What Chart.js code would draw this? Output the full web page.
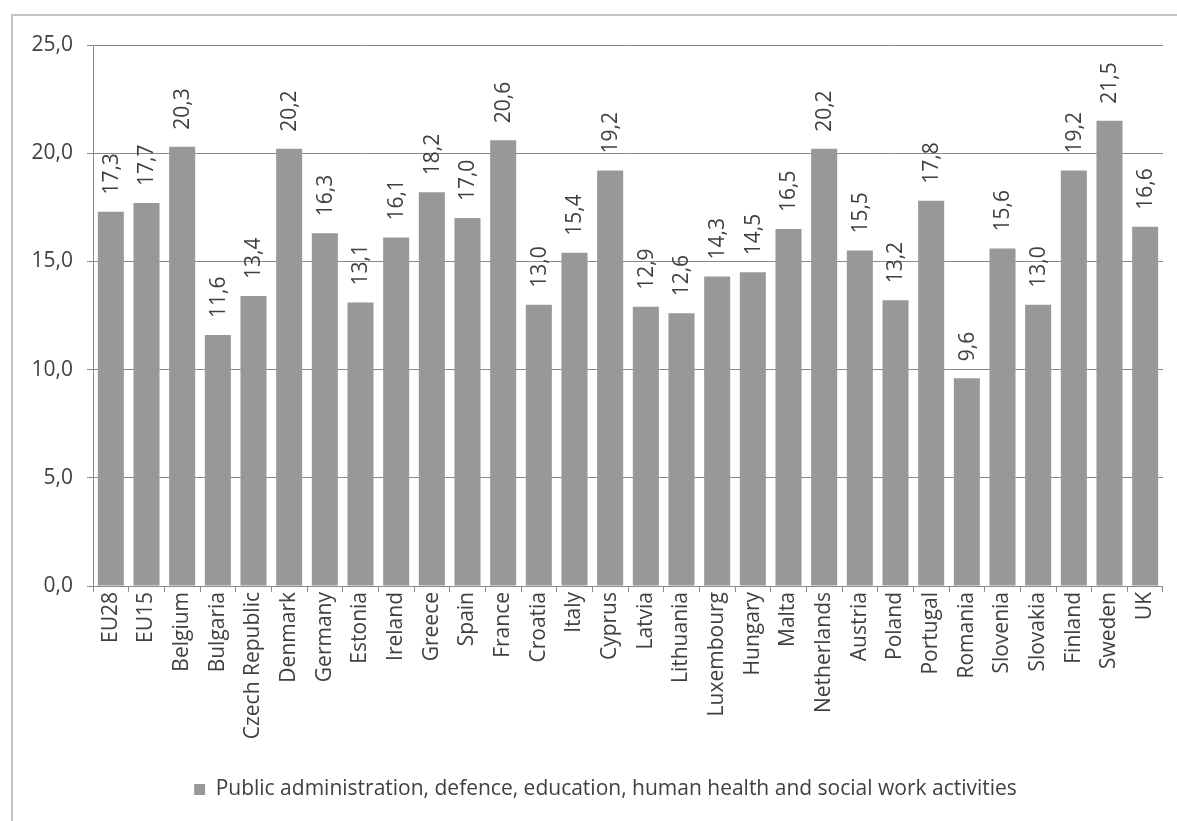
<!DOCTYPE html>
<html>
<head>
<meta charset="utf-8">
<script src="https://cdn.jsdelivr.net/npm/chart.js@4.4.0/dist/chart.umd.min.js"></script>
<style>
  html, body { margin: 0; padding: 0; background: #fff; }
  #wrap { width: 1177px; height: 821px; }
</style>
</head>
<body>
<div id="wrap"><canvas id="chart" width="1177" height="821"></canvas></div>
<script>
const countries = ["EU28", "EU15", "Belgium", "Bulgaria", "Czech Republic", "Denmark", "Germany",
  "Estonia", "Ireland", "Greece", "Spain", "France", "Croatia", "Italy", "Cyprus", "Latvia",
  "Lithuania", "Luxembourg", "Hungary", "Malta", "Netherlands", "Austria", "Poland", "Portugal",
  "Romania", "Slovenia", "Slovakia", "Finland", "Sweden", "UK"];
const shares = [17.3, 17.7, 20.3, 11.6, 13.4, 20.2, 16.3, 13.1, 16.1, 18.2, 17.0, 20.6, 13.0, 15.4,
  19.2, 12.9, 12.6, 14.3, 14.5, 16.5, 20.2, 15.5, 13.2, 17.8, 9.6, 15.6, 13.0, 19.2, 21.5, 16.6];
const seriesName = "Public administration, defence, education, human health and social work activities";
const yTicks = [0, 5, 10, 15, 20, 25];

const FONT = "'Open Sans'";
const SIZE = 21;
const TEXT = "#404040";
const fmt = v => v.toFixed(1).replace(".", ",");

// outer border around the whole chart
const frame = {
  id: "frame",
  beforeDraw(chart) {
    const c = chart.ctx;
    c.save();
    c.strokeStyle = "#c4c4c4";
    c.lineWidth = 2;
    c.strokeRect(12, 15, chart.width + 20, chart.height + 20);
    c.restore();
  }
};

// nudge the legend a bit to the right of the canvas centre
const legendShift = {
  id: "legendShift",
  afterLayout(chart) {
    chart.legend.left += 24;
    chart.legend.right += 24;
  }
};

// vertical value labels above each bar
const barLabels = {
  id: "barLabels",
  afterDatasetsDraw(chart) {
    const c = chart.ctx;
    const meta = chart.getDatasetMeta(0);
    c.save();
    c.fillStyle = TEXT;
    c.font = SIZE + "px " + FONT;
    c.textAlign = "left";
    c.textBaseline = "middle";
    meta.data.forEach((bar, i) => {
      c.save();
      c.translate(bar.x, bar.y - 17);
      c.rotate(-Math.PI / 2);
      c.fillText(fmt(shares[i]), 0, 1);
      c.restore();
    });
    c.restore();
  }
};

new Chart(document.getElementById("chart"), {
  type: "bar",
  data: {
    labels: countries,
    datasets: [{
      label: seriesName,
      data: shares,
      backgroundColor: "#989898",
      categoryPercentage: 1,
      barPercentage: 0.73
    }]
  },
  options: {
    responsive: false,
    animation: false,
    layout: { padding: { top: 45, right: 14, bottom: 11, left: 0 } },
    scales: {
      x: {
        afterFit(scale) { scale.height = 183; },
        border: { display: false },
        grid: { drawOnChartArea: false, drawTicks: true, tickLength: 6, offset: true, color: "#8a8a8a" },
        ticks: { color: TEXT, font: { family: FONT, size: SIZE }, maxRotation: 90, minRotation: 90, autoSkip: false, padding: 0 }
      },
      y: {
        min: 0,
        max: 25,
        afterFit(scale) { scale.width = 93; },
        afterBuildTicks(scale) { scale.ticks = yTicks.map(v => ({ value: v })); },
        border: { display: true, color: "#8a8a8a", width: 1 },
        grid: { color: "#8a8a8a", tickLength: 6, lineWidth: 1 },
        ticks: { color: TEXT, font: { family: FONT, size: SIZE }, padding: 14, callback: v => fmt(v) }
      }
    },
    plugins: {
      legend: {
        position: "bottom",
        labels: { color: TEXT, font: { family: FONT, size: SIZE }, boxWidth: 11, boxHeight: 11, padding: 10 }
      },
      tooltip: { enabled: false }
    }
  },
  plugins: [frame, legendShift, barLabels]
});
</script>
</body>
</html>
